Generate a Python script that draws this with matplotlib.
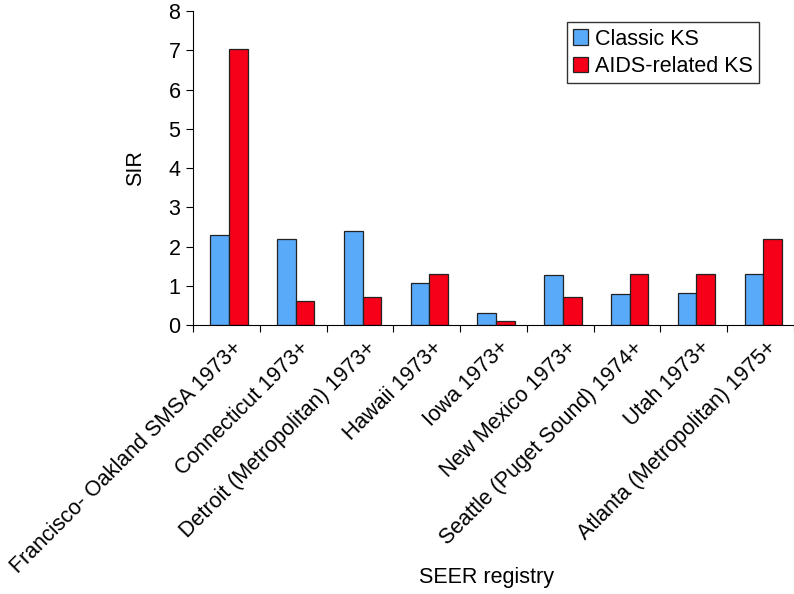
import matplotlib
matplotlib.use("Agg")
import matplotlib.pyplot as plt
import numpy as np

categories = ["Francisco- Oakland SMSA 1973+", "Connecticut 1973+", "Detroit (Metropolitan) 1973+",
              "Hawaii 1973+", "Iowa 1973+", "New Mexico 1973+", "Seattle (Puget Sound) 1974+",
              "Utah 1973+", "Atlanta (Metropolitan) 1975+"]
classic_ks = [2.3, 2.2, 2.4, 1.08, 0.3, 1.28, 0.8, 0.82, 1.3]
aids_ks = [7.05, 0.6, 0.7, 1.3, 0.1, 0.7, 1.3, 1.3, 2.2]
yticks = [0, 1, 2, 3, 4, 5, 6, 7, 8]

plt.rcParams['font.family'] = ['Liberation Sans', 'DejaVu Sans']
FS = 15.5

fig = plt.figure(figsize=(7.94, 5.94), dpi=100)
ax = fig.add_axes([0.243, 0.453, 0.757, 0.528])

x = np.arange(len(categories))
w = 0.28
ax.bar(x - w/2 + 0.04, classic_ks, w, color='#5AAAFA', edgecolor='#222222', linewidth=0.9, label='Classic KS')
ax.bar(x + w/2 + 0.04, aids_ks, w, color='#F50018', edgecolor='#222222', linewidth=0.9, label='AIDS-related KS')

ax.set_xlim(-0.5, len(categories) - 0.5)
ax.set_ylim(0, 8)
ax.set_yticks(yticks)
ax.set_yticklabels([str(t) for t in yticks], fontsize=FS)
ax.set_xticks(np.arange(len(categories) + 1) - 0.5)
ax.set_xticklabels([])
ax.set_xticks(x + 0.08, minor=True)
ax.set_xticklabels(categories, minor=True, rotation=45, ha='right', va='top',
                   rotation_mode='anchor', fontsize=FS)
ax.tick_params(axis='x', which='minor', length=0, pad=9)
ax.tick_params(axis='x', which='major', length=5, direction='out')
ax.tick_params(axis='y', length=5, direction='out', pad=4)
for s in ['top', 'right']:
    ax.spines[s].set_visible(False)

ax.set_ylabel('SIR', fontsize=FS, labelpad=16)
fig.text(0.613, 0.027, 'SEER registry', ha='center', va='center', fontsize=FS)

leg = ax.legend(loc='upper right', bbox_to_anchor=(0.96, 1.0), fontsize=FS, frameon=True,
                fancybox=False, edgecolor='black', handlelength=0.7, handleheight=0.7,
                handletextpad=0.3, borderpad=0.3, labelspacing=0.3)
leg.get_frame().set_linewidth(1.0)

fig.savefig('out.png', dpi=100)
